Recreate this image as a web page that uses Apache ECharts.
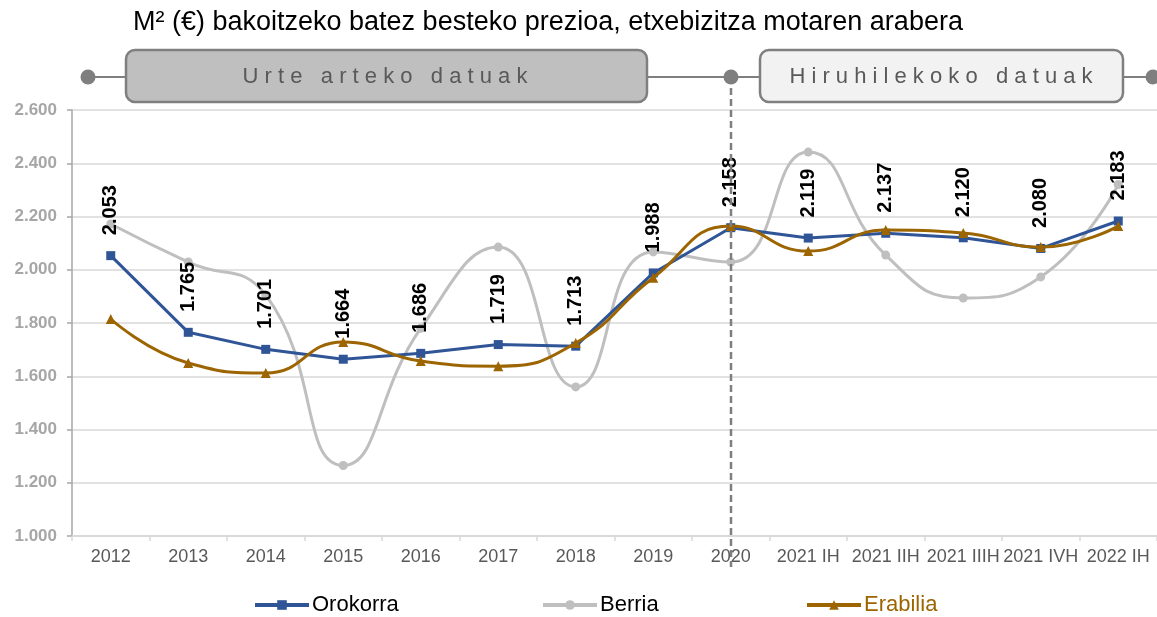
<!DOCTYPE html>
<html>
<head>
<meta charset="utf-8">
<script src="https://cdn.jsdelivr.net/npm/echarts@6/dist/echarts.min.js"></script>
<style>
  html, body { margin: 0; padding: 0; background: #fff; }
  #chart { width: 1157px; height: 617px; }
</style>
</head>
<body>
<div id="chart"></div>
<script>
// categories (annual, then half-year data)
const categories = ['2012', '2013', '2014', '2015', '2016', '2017', '2018', '2019', '2020',
  '2021 IH', '2021 IIH', '2021 IIIH', '2021 IVH', '2022 IH'];

// €/m² per series
const orokorra = [2053, 1765, 1701, 1664, 1686, 1719, 1713, 1988, 2158, 2119, 2137, 2120, 2080, 2183];
const berria   = [2172, 2029, 1905, 1265, 1780, 2085, 1560, 2067, 2029, 2442, 2055, 1894, 1973, 2320];
const erabilia = [1815, 1650, 1612, 1729, 1657, 1638, 1725, 1970, 2164, 2070, 2149, 2138, 2085, 2164];

const yTicks = { min: 1000, max: 2600, step: 200 };

const FONT = "'Liberation Sans', Arial, sans-serif";

// 2053 -> "2.053"
function fmt(v) {
  return String(v).replace(/\B(?=(\d{3})+(?!\d))/g, '.');
}
function spaced(s) {
  return s.split('').join(' ');
}

const myChart = echarts.init(document.getElementById('chart'));

function legendFor(name, left, color) {
  return {
    data: [name], left: left, top: 594, padding: 0,
    itemWidth: 54, itemHeight: 12, itemGap: 0,
    lineStyle: { width: 4 },
    textStyle: { fontFamily: FONT, fontSize: 22, color: color, padding: [0, 0, 0, -2] }
  };
}

const option = {
  animation: false,
  textStyle: { fontFamily: FONT },
  title: {
    text: 'M² (€) bakoitzeko batez besteko prezioa, etxebizitza motaren arabera',
    left: 133,
    top: 9,
    padding: 0,
    textStyle: { fontFamily: FONT, fontSize: 27, fontWeight: 'normal', color: '#000' }
  },
  legend: [
    legendFor('Orokorra', 253, '#000'),
    legendFor('Berria', 541, '#000'),
    legendFor('Erabilia', 805, '#9c6500')
  ],
  grid: {
    left: 72,
    top: 110,
    width: 1095,
    height: 426
  },
  xAxis: {
    type: 'category',
    data: categories,
    boundaryGap: true,
    axisLine: { lineStyle: { color: '#d9d9d9', width: 2 } },
    axisTick: { show: true, length: 5, lineStyle: { color: '#d9d9d9', width: 1.5 } },
    axisLabel: { interval: 0, color: '#595959', fontSize: 18, fontFamily: FONT, margin: 12 }
  },
  yAxis: {
    type: 'value',
    min: yTicks.min,
    max: yTicks.max,
    interval: yTicks.step,
    axisLine: { show: true, lineStyle: { color: '#a6a6a6', width: 1.5 } },
    axisTick: { show: true, length: 5, lineStyle: { color: '#a6a6a6', width: 1.5 } },
    axisLabel: {
      color: '#a6a6a6', fontSize: 17, fontWeight: 'bold', fontFamily: FONT, margin: 15,
      formatter: fmt
    },
    splitLine: { lineStyle: { color: '#d9d9d9', width: 1.5 } }
  },
  series: [
    {
      name: 'Orokorra',
      type: 'line',
      data: orokorra,
      z: 3,
      color: '#2f5597',
      symbol: 'rect',
      symbolSize: 9,
      lineStyle: { width: 3 },
      label: {
        show: true,
        position: 'top',
        distance: 16,
        rotate: 90,
        align: 'left',
        verticalAlign: 'middle',
        fontFamily: FONT,
        fontSize: 20,
        fontWeight: 'bold',
        color: '#000',
        formatter: p => fmt(p.value)
      }
    },
    {
      name: 'Berria',
      type: 'line',
      data: berria,
      z: 2,
      smooth: 0.5,
      color: '#bfbfbf',
      symbol: 'circle',
      symbolSize: 9,
      lineStyle: { width: 3 }
    },
    {
      name: 'Erabilia',
      type: 'line',
      data: erabilia,
      z: 4,
      smooth: 0.5,
      color: '#9c6500',
      symbol: 'triangle',
      symbolSize: 10,
      lineStyle: { width: 3 }
    }
  ],
  // header ribbon: annual vs half-year sections
  graphic: [
    { type: 'line', shape: { x1: 88, y1: 77, x2: 1153, y2: 77 }, style: { stroke: '#7f7f7f', lineWidth: 2 } },
    { type: 'line', shape: { x1: 731, y1: 77, x2: 731, y2: 567 }, style: { stroke: '#7f7f7f', lineWidth: 2.5, lineDash: [7, 4] }, z: 10 },
    { type: 'circle', shape: { cx: 88, cy: 77, r: 7.5 }, style: { fill: '#7f7f7f' } },
    { type: 'circle', shape: { cx: 731, cy: 77, r: 7.5 }, style: { fill: '#7f7f7f' } },
    { type: 'circle', shape: { cx: 1153, cy: 77, r: 7.5 }, style: { fill: '#7f7f7f' } },
    {
      type: 'rect', shape: { x: 126, y: 50, width: 521, height: 52, r: 9 },
      style: { fill: '#bfbfbf', stroke: '#7f7f7f', lineWidth: 2.5 }
    },
    {
      type: 'text', x: 385, y: 77,
      style: {
        text: spaced('Urte arteko datuak'), fill: '#595959', font: '22px ' + FONT,
        align: 'center', verticalAlign: 'middle'
      }
    },
    {
      type: 'rect', shape: { x: 760, y: 50, width: 363, height: 52, r: 9 },
      style: { fill: '#f2f2f2', stroke: '#7f7f7f', lineWidth: 2.5 }
    },
    {
      type: 'text', x: 941, y: 77,
      style: {
        text: spaced('Hiruhilekoko datuak'), fill: '#595959', font: '22px ' + FONT,
        align: 'center', verticalAlign: 'middle'
      }
    }
  ]
};

myChart.setOption(option);
window.addEventListener('resize', () => myChart.resize());
</script>
</body>
</html>
